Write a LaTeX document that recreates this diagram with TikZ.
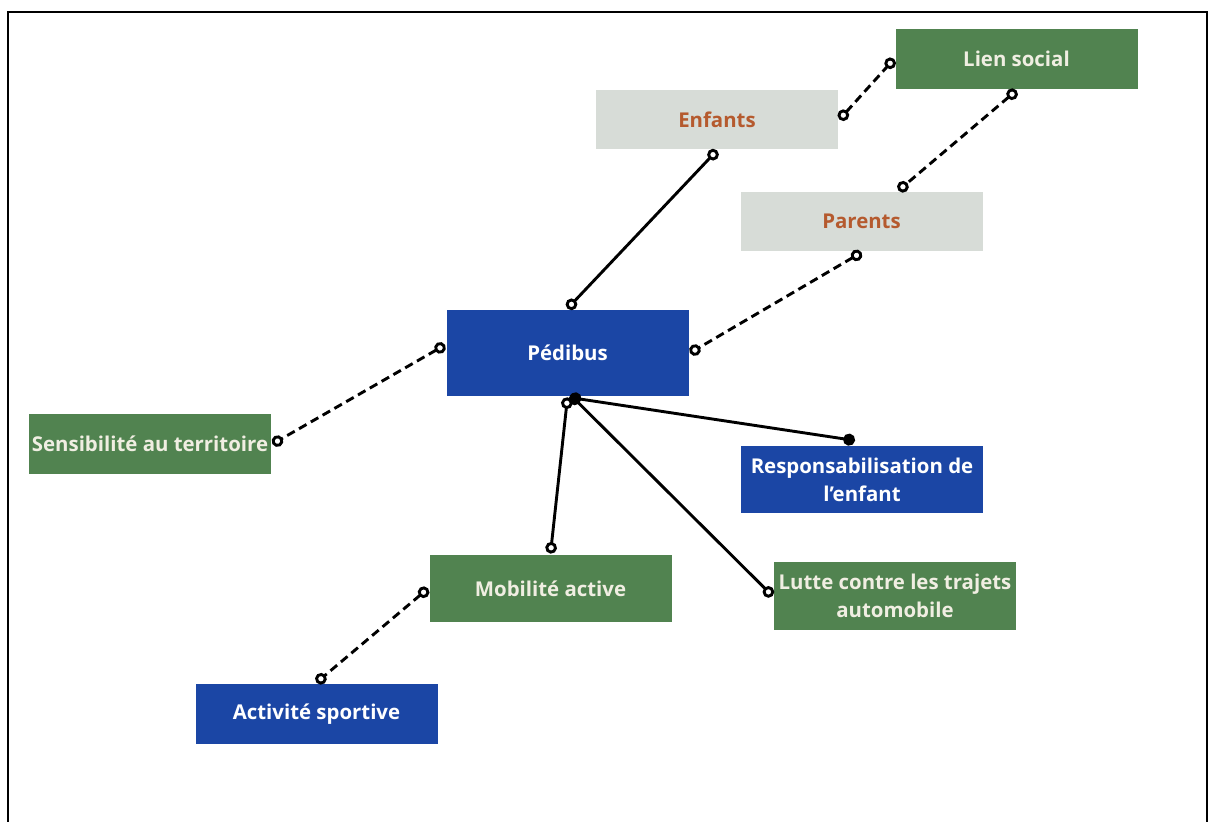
\documentclass[tikz,border=0pt]{standalone}
\usepackage{fontspec}
\setmainfont{Open Sans}
\usetikzlibrary{arrows.meta}

\definecolor{pedblue}{RGB}{27,70,165}
\definecolor{pedgreen}{RGB}{81,131,80}
\definecolor{pedgrey}{RGB}{215,220,215}
\definecolor{pedbrown}{RGB}{181,90,46}
\definecolor{pedcream}{RGB}{240,238,226}

\begin{document}
\begin{tikzpicture}[x=0.5pt,y=-0.5pt,line width=1.45pt,
    oc/.tip={Circle[open,length=5.8pt]},
    fc/.tip={Circle[length=6pt]},
    box/.style={rectangle,minimum width=121pt,minimum height=30pt,inner sep=1pt,
      align=center,font=\bfseries\fontsize{10.2}{14}\selectfont},
    greenbox/.style={box,fill=pedgreen,text=pedcream},
    bluebox/.style={box,fill=pedblue,text=white},
    greybox/.style={box,fill=pedgrey,text=pedbrown},
    link/.style={oc-oc},
    dlink/.style={oc-oc,dash pattern=on 4.3pt off 2.5pt}]
    \useasboundingbox (0,0) rectangle (1211,822);
    \draw[line width=1.1pt] (8,822) -- (8,12) -- (1207,12) -- (1207,822);

    \node[greenbox] (LS) at (1016.5,59)                        {Lien social};
    \node[greybox]  (EN) at (717,119.5)  [minimum height=29.5pt] {Enfants};
    \node[greybox]  (PA) at (861.5,221.5) [minimum height=29.5pt] {Parents};
    \node[bluebox]  (PE) at (567.5,353)  [minimum height=43pt]   {Pédibus};
    \node[greenbox] (ST) at (150,444)                          {Sensibilité au territoire};
    \node[bluebox]  (RE) at (862,479.5)  [minimum height=33.5pt] {Responsabilisation de\\l’enfant};
    \node[greenbox] (MA) at (550.5,588.5) [minimum height=33.5pt] {Mobilité active};
    \node[greenbox] (LT) at (895,596)    [minimum height=34pt]   {Lutte contre les trajets\\automobile};
    \node[bluebox]  (AS) at (316.5,714)                        {Activité sportive};

    \path
      (EN.east) edge [dlink] (LS.west)
      (LS.south) edge [dlink] ([shift={(37,0)}]PA.north)
      (EN.south) edge [link] (PE.north)
      (PA.south) edge [dlink] (PE.east)
      ([shift={(0,-8)}]PE.west) edge [dlink] (ST.east)
      ([shift={(2,0)}]PE.south) edge [fc-fc] ([shift={(-7,-4)}]RE.north)
      (PE.south) edge [link] (MA.north)
      ([shift={(3,-2.5)}]PE.south) edge [fc-oc] (LT.west)
      (MA.west) edge [dlink] (AS.north);
  \end{tikzpicture}
\end{document}
